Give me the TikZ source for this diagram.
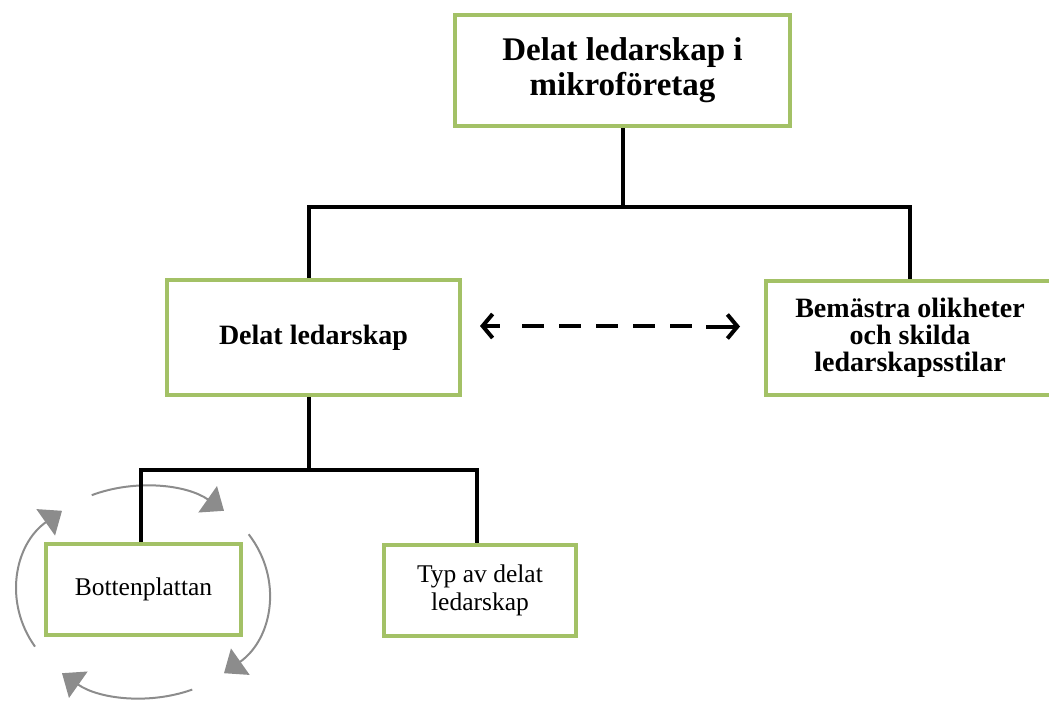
\documentclass[tikz,border=0pt]{standalone}
\usepackage{fontspec}
\setmainfont{Liberation Serif}
\usetikzlibrary{arrows.meta}
\definecolor{boxgreen}{RGB}{163,193,102}
\definecolor{arcgray}{RGB}{140,140,140}
\begin{document}
\begin{tikzpicture}[x=1pt,y=-1pt,
  box/.style={draw=boxgreen, line width=4pt, fill=white, align=center, inner sep=0pt},
  conn/.style={line width=4pt, draw=black},
  barb/.style={line width=4pt, draw=black},
  cyc/.style={draw=arcgray, line width=2pt, -{Triangle[length=20pt,width=32pt]}},
  bigtxt/.style={font=\fontsize{33}{35}\selectfont\bfseries},
  midtxt/.style={font=\fontsize{28}{27}\selectfont\bfseries},
  smalltxt/.style={font=\fontsize{25.5}{28}\selectfont}]
\useasboundingbox (0,0) rectangle (1049,704);
\clip (0,0) rectangle (1049,704);

% circular arrows around Bottenplattan
\draw[cyc] ({143+126*cos(211)},{592-106*sin(211)}) arc[start angle=211, end angle=130, x radius=126pt, y radius=106pt];
\draw[cyc] ({143+126*cos(114)},{592-106*sin(114)}) arc[start angle=114, end angle=50, x radius=126pt, y radius=106pt];
\draw[cyc] ({143+126*cos(33)},{592-106*sin(33)}) arc[start angle=33, end angle=-50, x radius=126pt, y radius=106pt];
\draw[cyc] ({143+126*cos(-67)},{592-106*sin(-67)}) arc[start angle=-67, end angle=-130, x radius=126pt, y radius=106pt];

% boxes
\node[box, bigtxt, minimum width=335pt, minimum height=111pt] (top) at (622.5,70.5) {Delat ledarskap i\\mikroföretag};
\node[box, midtxt, minimum width=293pt, minimum height=115pt] (dl) at (313.5,337.5) {Delat ledarskap};
\node[box, midtxt, minimum width=288pt, minimum height=114pt] (bo) at (910,338) {Bemästra olikheter\\och skilda\\ledarskapsstilar};
\node[box, smalltxt, minimum width=195pt, minimum height=91pt] (bott) at (143.5,589.5) {Bottenplattan};
\node[box, smalltxt, minimum width=192pt, minimum height=91pt] (typ) at (480,590.5) {Typ av delat\\ledarskap};

% connectors
\coordinate (j1) at (622.5,207);
\coordinate (j2) at (309,470);
\draw[conn] (top.south) -- (j1);
\draw[conn] ([xshift=-4.5pt]dl.north) |- (j1) -| (bo.north);
\draw[conn] ([xshift=-4.5pt]dl.south) -- (j2);
\draw[conn] ([xshift=-2.5pt]bott.north) |- (j2) -| ([xshift=-3pt]typ.north);

% dashed double arrow (drawn as tips plus separate dashes)
\coordinate (dL) at ([xshift=18pt,yshift=11.5pt]dl.east);
\coordinate (dR) at ([xshift=-24pt,yshift=11.5pt]bo.west);
\draw[barb, {Straight Barb[length=10pt,width=24pt]}-] (dL) -- ([xshift=20pt]dL);
\draw[barb, -{Straight Barb[length=10pt,width=24pt]}] ([xshift=-34pt]dR) -- (dR);
\foreach \a/\b in {42/64,79/101,116/138,153/175,190/212}{
  \draw[barb] ([xshift=\a pt]dL) -- ([xshift=\b pt]dL);
}
\end{tikzpicture}
\end{document}
